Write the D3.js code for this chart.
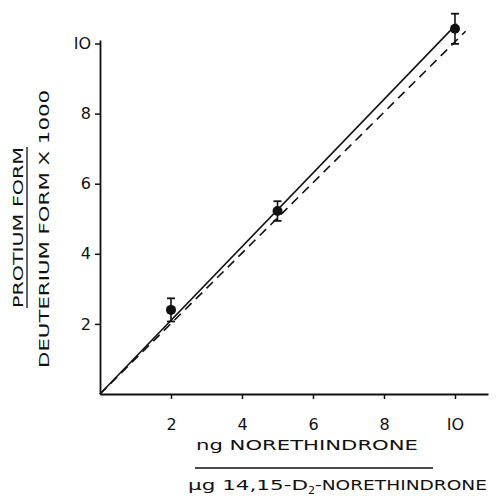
<!DOCTYPE html>
<html>
<head>
<meta charset="utf-8">
<script src="https://cdn.jsdelivr.net/npm/d3@7"></script>
<style>
  body { margin: 0; background: #fff; }
  text { font-family: "DejaVu Sans", sans-serif; fill: #111; }
</style>
</head>
<body>
<div id="chart"></div>
<script>
// Data
const doses = [2, 5, 10];
const ratios = [2.4, 5.22, 10.42];
const errors = [0.33, 0.28, 0.43];
const xTicks = [2, 4, 6, 8, 10];
const yTicks = [2, 4, 6, 8, 10];
const xTickLabels = ["2", "4", "6", "8", "IO"];
const yTickLabels = ["2", "4", "6", "8", "IO"];
const solidLine = [[0, 0], [10.05, 10.56]];
const dashedLine = [[0, 0], [10.3, 10.35]];

const width = 502, height = 502;

// Scales
let x = d3.scaleLinear().domain([0, 10.93]).range([100, 488]);
let y = d3.scaleLinear().domain([0, 10.1]).range([394, 40]);

let svg = d3.select("#chart").append("svg")
  .attr("width", width)
  .attr("height", height);

// Axes
let xAxis = svg.append("g")
  .attr("transform", `translate(0,${y(0)})`)
  .call(d3.axisBottom(x).tickValues(xTicks).tickSize(5).tickSizeOuter(0)
    .tickFormat((d, i) => xTickLabels[i]));
let yAxis = svg.append("g")
  .attr("transform", `translate(${x(0)},0)`)
  .call(d3.axisLeft(y).tickValues(yTicks).tickSize(5).tickSizeOuter(0)
    .tickFormat((d, i) => yTickLabels[i]));

[xAxis, yAxis].forEach(g => {
  g.select(".domain").attr("stroke", "#111").attr("stroke-width", 1.8);
  g.selectAll(".tick line").attr("stroke", "#111").attr("stroke-width", 1.5);
  g.selectAll(".tick text").style("font-size", "16px").attr("fill", "#111");
});
xAxis.selectAll(".tick text").attr("dy", "1.75em");
yAxis.selectAll(".tick text").attr("x", -9);

// Fitted lines
let line = d3.line().x(d => x(d[0])).y(d => y(d[1]));
svg.append("path")
  .datum(solidLine)
  .attr("d", line)
  .attr("fill", "none")
  .attr("stroke", "#111")
  .attr("stroke-width", 1.6);
svg.append("path")
  .datum(dashedLine)
  .attr("d", line)
  .attr("fill", "none")
  .attr("stroke", "#111")
  .attr("stroke-width", 1.6)
  .attr("stroke-dasharray", "9,6");

// Error bars and points
let pts = doses.map((d, i) => ({ x: d, y: ratios[i], e: errors[i] }));
let bars = svg.append("g").selectAll("g")
  .data(pts)
  .enter()
  .append("g");
bars.append("line")
  .attr("x1", d => x(d.x)).attr("x2", d => x(d.x))
  .attr("y1", d => y(d.y - d.e)).attr("y2", d => y(d.y + d.e))
  .attr("stroke", "#111").attr("stroke-width", 1.6);
bars.selectAll("line.cap")
  .data(d => [[d.x, d.y - d.e], [d.x, d.y + d.e]])
  .enter()
  .append("line")
  .attr("class", "cap")
  .attr("x1", d => x(d[0]) - 4).attr("x2", d => x(d[0]) + 4)
  .attr("y1", d => y(d[1])).attr("y2", d => y(d[1]))
  .attr("stroke", "#111").attr("stroke-width", 1.8);
bars.append("circle")
  .attr("cx", d => x(d.x))
  .attr("cy", d => y(d.y))
  .attr("r", 5)
  .attr("fill", "#111");

// X axis title (fraction)
svg.append("text")
  .attr("x", 196).attr("y", 450)
  .attr("textLength", 222)
  .attr("lengthAdjust", "spacingAndGlyphs")
  .style("font-size", "14px")
  .text("ng NORETHINDRONE");
svg.append("line")
  .attr("x1", 195).attr("x2", 433)
  .attr("y1", 468).attr("y2", 468)
  .attr("stroke", "#111").attr("stroke-width", 1.3);
let sub = svg.append("text")
  .attr("x", 188).attr("y", 490)
  .style("font-size", "14px");
sub.append("tspan").attr("textLength", 120).attr("lengthAdjust", "spacingAndGlyphs").text("\u03BCg 14,15-D");
sub.append("tspan").attr("dy", 4).style("font-size", "11px").text("2");
sub.append("tspan").attr("dy", -4).attr("textLength", 172).attr("lengthAdjust", "spacingAndGlyphs").text("-NORETHINDRONE");

// Y axis title (fraction)
svg.append("text")
  .attr("transform", "translate(23,308) rotate(-90)")
  .attr("textLength", 161)
  .attr("lengthAdjust", "spacingAndGlyphs")
  .style("font-size", "14px")
  .text("PROTIUM FORM");
svg.append("line")
  .attr("x1", 27).attr("x2", 27)
  .attr("y1", 147).attr("y2", 308)
  .attr("stroke", "#111").attr("stroke-width", 1.3);
svg.append("text")
  .attr("transform", "translate(49,368) rotate(-90)")
  .attr("textLength", 278)
  .attr("lengthAdjust", "spacingAndGlyphs")
  .style("font-size", "14px")
  .text("DEUTERIUM FORM X 1000");
</script>
</body>
</html>
